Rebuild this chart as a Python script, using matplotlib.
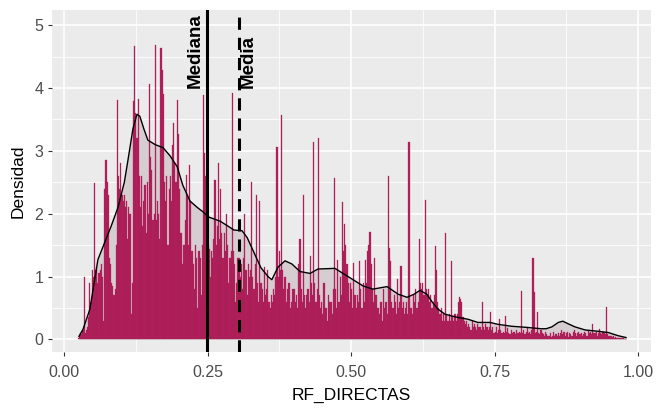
import numpy as np
import matplotlib
matplotlib.use("Agg")
import matplotlib.pyplot as plt
from matplotlib.ticker import MultipleLocator

plt.rcParams['font.family'] = ['Liberation Sans', 'DejaVu Sans']

# Histogram of RF_DIRECTAS (density scale), bins of width 0.002 starting at 0.024
bin_start = 0.024
bin_width = 0.002
hist_density = [
    0.03, 0.06, 0.10, 0.08, 0.15, 1.00, 0.10, 0.15, 0.20, 0.35,
    0.90, 0.60, 1.10, 1.00, 2.49, 1.10, 1.15, 0.90, 1.05, 1.10,
    1.20, 1.00, 0.30, 2.40, 2.86, 2.50, 2.30, 1.30, 1.20, 0.90,
    0.85, 0.70, 0.80, 1.50, 3.81, 2.60, 2.40, 2.80, 2.30, 2.20,
    2.30, 2.10, 2.20, 1.60, 2.10, 2.00, 0.40, 0.90, 3.80, 4.66,
    3.60, 3.20, 3.83, 2.60, 2.10, 2.60, 1.80, 2.20, 2.46, 1.70,
    2.50, 2.00, 4.07, 2.90, 2.70, 1.90, 2.00, 4.68, 1.90, 2.20,
    2.00, 1.60, 4.63, 4.29, 3.90, 2.50, 2.20, 2.60, 1.50, 2.40,
    2.60, 2.20, 3.10, 3.44, 2.80, 2.50, 3.81, 3.27, 2.40, 1.70,
    1.70, 1.20, 1.50, 1.90, 2.62, 2.30, 1.50, 2.78, 2.20, 1.40,
    1.20, 0.80, 1.50, 1.30, 0.50, 1.40, 1.30, 0.70, 1.50, 3.89,
    2.97, 2.60, 2.00, 1.50, 1.44, 1.00, 1.40, 1.30, 1.60, 2.54,
    1.50, 1.80, 2.80, 1.60, 2.40, 1.70, 1.30, 1.70, 1.40, 2.00,
    1.50, 0.90, 1.30, 1.40, 3.92, 1.40, 1.20, 0.60, 0.90, 1.30,
    1.30, 1.00, 1.20, 0.80, 1.30, 2.00, 1.10, 0.70, 1.20, 1.00,
    1.10, 2.50, 1.00, 0.80, 1.20, 2.30, 0.90, 0.60, 2.20, 0.90,
    0.80, 0.60, 1.15, 0.70, 0.80, 1.10, 0.60, 0.50, 0.70, 0.60,
    0.80, 0.70, 1.00, 3.06, 1.00, 1.40, 1.10, 3.57, 1.10, 0.80,
    1.00, 0.60, 0.80, 0.90, 0.90, 0.50, 0.60, 0.80, 0.80, 0.60,
    0.70, 0.50, 1.20, 1.59, 0.80, 0.60, 2.30, 0.70, 0.50, 0.70,
    0.80, 0.60, 1.33, 0.90, 0.70, 3.14, 0.90, 0.60, 0.80, 3.20,
    0.70, 0.50, 0.60, 0.40, 0.90, 0.50, 0.50, 0.30, 0.70, 0.60,
    0.60, 0.40, 0.80, 2.57, 0.80, 0.50, 1.27, 0.60, 1.00, 0.70,
    2.19, 1.40, 1.83, 1.50, 1.20, 0.90, 0.60, 0.90, 0.80, 0.50,
    1.22, 0.70, 0.50, 0.70, 0.60, 1.24, 0.80, 0.50, 0.90, 0.60,
    1.27, 0.90, 1.40, 1.50, 1.71, 1.20, 0.80, 0.60, 1.30, 0.70,
    0.70, 0.50, 0.40, 0.60, 0.60, 0.30, 0.80, 0.50, 0.60, 0.40,
    2.60, 1.46, 1.25, 0.60, 0.50, 0.70, 0.60, 0.40, 0.96, 0.50,
    0.60, 1.17, 0.50, 0.60, 0.40, 0.50, 0.60, 0.40, 3.14, 0.50,
    0.50, 0.40, 0.70, 0.60, 0.80, 0.50, 0.60, 1.60, 0.90, 0.80,
    0.90, 0.70, 2.22, 0.80, 0.70, 0.80, 0.60, 0.70, 0.50, 0.60,
    0.70, 1.48, 1.10, 0.60, 0.50, 0.40, 0.50, 0.30, 0.40, 0.30,
    1.70, 0.40, 0.30, 0.40, 0.30, 1.24, 0.35, 0.30, 0.40, 0.30,
    0.40, 0.60, 0.67, 0.65, 0.60, 0.35, 0.30, 0.25, 0.30, 0.20,
    0.25, 0.20, 0.15, 0.30, 0.20, 0.25, 0.20, 0.15, 0.25, 0.20,
    0.20, 0.15, 0.60, 0.20, 0.15, 0.25, 0.20, 0.15, 0.20, 0.43,
    0.15, 0.20, 0.10, 0.12, 0.20, 0.10, 0.15, 0.32, 0.15, 0.10,
    0.12, 0.10, 0.37, 0.12, 0.18, 0.10, 0.08, 0.15, 0.10, 0.12,
    0.12, 0.08, 0.15, 0.10, 0.12, 0.10, 0.77, 0.10, 0.15, 0.08,
    0.12, 0.18, 0.10, 0.12, 0.08, 0.15, 1.30, 0.75, 0.10, 0.12,
    0.43, 0.10, 0.08, 0.15, 0.10, 0.08, 0.05, 0.12, 0.08, 0.05,
    0.05, 0.10, 0.04, 0.06, 0.12, 0.05, 0.08, 0.05, 0.10, 0.06,
    0.10, 0.15, 0.08, 0.12, 0.05, 0.10, 0.12, 0.04, 0.10, 0.08,
    0.05, 0.12, 0.15, 0.10, 0.06, 0.10, 0.12, 0.08, 0.10, 0.05,
    0.08, 0.12, 0.10, 0.05, 0.15, 0.10, 0.12, 0.08, 0.24, 0.10,
    0.10, 0.12, 0.06, 0.10, 0.16, 0.10, 0.08, 0.12, 0.10, 0.08,
    0.52, 0.08, 0.06, 0.05, 0.06, 0.04, 0.05, 0.03, 0.04, 0.03,
    0.03, 0.02, 0.03, 0.02, 0.02, 0.02, 0.01, 0.01,
]

# Kernel density estimate of the same variable
kde_x = [0.026, 0.033, 0.045, 0.059, 0.082, 0.094, 0.105, 0.1115, 0.120, 0.127,
         0.132, 0.139, 0.146, 0.1585, 0.1725, 0.1847, 0.197, 0.207, 0.2195, 0.232,
         0.242, 0.251, 0.272, 0.286, 0.296, 0.310, 0.319, 0.329, 0.343, 0.3554,
         0.362, 0.3728, 0.385, 0.397, 0.411, 0.4286, 0.4425, 0.472, 0.4895, 0.5035,
         0.521, 0.538, 0.5627, 0.582, 0.5976, 0.610, 0.620, 0.632, 0.641, 0.6516,
         0.664, 0.681, 0.704, 0.721, 0.742, 0.756, 0.779, 0.808, 0.831, 0.840,
         0.850, 0.861, 0.869, 0.878, 0.890, 0.908, 0.930, 0.948, 0.965, 0.979]
kde_y = [0.05, 0.16, 0.48, 1.27, 1.80, 2.10, 2.50, 2.86, 3.35, 3.58,
         3.55, 3.35, 3.17, 3.10, 3.05, 2.92, 2.75, 2.45, 2.20, 2.10,
         2.03, 1.95, 1.88, 1.80, 1.74, 1.73, 1.62, 1.42, 1.14, 1.00,
         0.95, 1.15, 1.25, 1.20, 1.08, 1.05, 1.12, 1.13, 1.03, 0.95,
         0.85, 0.80, 0.84, 0.72, 0.67, 0.72, 0.78, 0.72, 0.60, 0.48,
         0.40, 0.36, 0.32, 0.27, 0.27, 0.24, 0.21, 0.19, 0.17, 0.17,
         0.20, 0.27, 0.29, 0.25, 0.20, 0.15, 0.13, 0.11, 0.06, 0.03]

mediana = 0.249
media = 0.304

x_ticks = [0.00, 0.25, 0.50, 0.75, 1.00]
x_ticklabels = ["0.00", "0.25", "0.50", "0.75", "1.00"]
y_ticks = [0, 1, 2, 3, 4, 5]

bar_centers = bin_start + bin_width * (np.arange(len(hist_density)) + 0.5)

fig = plt.figure(figsize=(6.56, 4.09), dpi=100)
ax = fig.add_axes([52 / 656, 1 - 352 / 409, 599 / 656, 342 / 409])
ax.set_facecolor('#EBEBEB')
for s in ax.spines.values():
    s.set_visible(False)

ax.set_xlim(-0.021, 1.0226)
ax.set_ylim(-0.20, 5.24)

ax.xaxis.set_major_locator(MultipleLocator(0.25))
ax.xaxis.set_minor_locator(MultipleLocator(0.125))
ax.yaxis.set_major_locator(MultipleLocator(1))
ax.yaxis.set_minor_locator(MultipleLocator(0.5))
ax.grid(which='major', color='white', linewidth=1.2, zorder=0)
ax.grid(which='minor', color='white', linewidth=0.6, zorder=0)
ax.set_axisbelow(True)

ax.set_xticks(x_ticks)
ax.set_xticklabels(x_ticklabels)
ax.set_yticks(y_ticks)
ax.tick_params(axis='both', which='major', length=3.2, width=0.8, color='#333333',
               labelcolor='#4D4D4D', labelsize=11.5)
ax.tick_params(axis='x', pad=6.5)
ax.tick_params(axis='y', pad=3)
ax.tick_params(which='minor', length=0)

# density area behind the bars
ax.fill_between(kde_x, 0, kde_y, color='#D6CDD1', linewidth=0, zorder=1)

ax.bar(bar_centers, hist_density, width=bin_width, color='#B3205B',
       edgecolor='#A41E55', linewidth=0.2, zorder=2)

ax.plot(kde_x, kde_y, color='black', linewidth=1.0, zorder=3)

ax.axvline(mediana, color='black', linewidth=2.2, zorder=4)
ax.axvline(media, color='black', linewidth=2.2, linestyle=(0, (4, 2.6)), zorder=4)

ax.text(mediana - 0.021, 4.0, "Mediana", rotation=90, ha='center', va='bottom',
        fontsize=13.5, fontweight='bold', color='black', zorder=5)
ax.text(media + 0.0165, 4.0, "Media", rotation=90, ha='center', va='bottom',
        fontsize=13.5, fontweight='bold', color='black', zorder=5)

fig.text(351.5 / 656, 1 - 395 / 409, "RF_DIRECTAS", ha='center', va='center',
         fontsize=12.5, color='black')
fig.text(18 / 656, 1 - 181 / 409, "Densidad", ha='center', va='center',
         rotation=90, fontsize=12.5, color='black')

fig.savefig("out.png", dpi=100)
